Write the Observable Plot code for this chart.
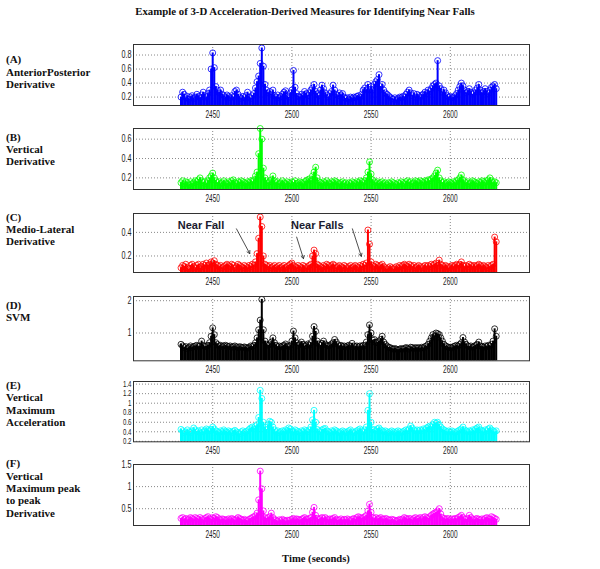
<!DOCTYPE html>
<html>
<head>
<meta charset="utf-8">
<script src="https://cdn.jsdelivr.net/npm/d3@7"></script>
<script src="https://cdn.jsdelivr.net/npm/@observablehq/plot@0.6"></script>
<style>
  html, body { margin: 0; padding: 0; background: #fff; }
  #wrap { position: relative; width: 600px; height: 569px; overflow: hidden; background: #fff; }
  .serif { position: absolute; font-family: "Liberation Serif", "Times New Roman", serif; font-weight: bold; color: #111; white-space: nowrap; }
  .lbl { left: 6px; font-size: 11px; line-height: 12.4px; }
  #title { top: 5px; left: 0; width: 610px; text-align: center; font-size: 10.8px; }
  #xlabel { top: 553px; left: 0; width: 632px; text-align: center; font-size: 10.6px; }
  svg { position: absolute; left: 0; overflow: visible; }
</style>
</head>
<body>
<div id="wrap">
  <div id="title" class="serif">Example of 3-D Acceleration-Derived Measures for Identifying Near Falls</div>
  <div id="xlabel" class="serif">Time (seconds)</div>
</div>
<script>
// ---- data: one sample per second starting at startTime ----
const startTime = 2430;
const timeTicks = [2450, 2500, 2550, 2600];

const apDerivative = [
  0.2, 0.27, 0.24, 0.19, 0.21, 0.17, 0.2, 0.22, 0.18, 0.2,
  0.24, 0.21, 0.19, 0.23, 0.27, 0.22, 0.2, 0.25, 0.3, 0.6,
  0.83, 0.62, 0.35, 0.3, 0.26, 0.3, 0.24, 0.22, 0.2, 0.23,
  0.21, 0.19, 0.22, 0.2, 0.28, 0.3, 0.24, 0.2, 0.18, 0.21,
  0.19, 0.22, 0.27, 0.2, 0.18, 0.22, 0.25, 0.33, 0.42, 0.5,
  0.68, 0.9, 0.64, 0.38, 0.3, 0.26, 0.28, 0.24, 0.3, 0.22,
  0.2, 0.23, 0.19, 0.21, 0.24, 0.27, 0.29, 0.22, 0.2, 0.26,
  0.3, 0.58, 0.34, 0.25, 0.21, 0.2, 0.24, 0.22, 0.28, 0.25,
  0.22, 0.26, 0.3, 0.33, 0.38, 0.28, 0.25, 0.22, 0.3, 0.37,
  0.32, 0.26, 0.23, 0.2, 0.25, 0.28, 0.37, 0.3, 0.24, 0.22,
  0.26, 0.23, 0.25, 0.2, 0.18, 0.19, 0.17, 0.2, 0.18, 0.2,
  0.19, 0.21, 0.22, 0.2, 0.24, 0.3, 0.33, 0.3, 0.38, 0.3,
  0.35, 0.3, 0.38, 0.42, 0.45, 0.52, 0.35, 0.38, 0.3, 0.26,
  0.24, 0.22, 0.2, 0.18, 0.17, 0.19, 0.16, 0.18, 0.2, 0.19,
  0.21, 0.2, 0.24, 0.27, 0.3, 0.26, 0.22, 0.25, 0.2, 0.24,
  0.22, 0.2, 0.23, 0.24, 0.27, 0.25, 0.3, 0.28, 0.32, 0.36,
  0.38, 0.4, 0.72, 0.36, 0.32, 0.27, 0.3, 0.26, 0.22, 0.2,
  0.21, 0.19, 0.2, 0.22, 0.25, 0.3, 0.35, 0.4, 0.36, 0.3,
  0.26, 0.28, 0.32, 0.27, 0.24, 0.26, 0.3, 0.33, 0.38, 0.3,
  0.26, 0.28, 0.32, 0.28, 0.25, 0.3, 0.34, 0.36, 0.38, 0.32
];
const apTicks = [0.2, 0.4, 0.6, 0.8];

const verticalDerivative = [
  0.15, 0.17, 0.14, 0.16, 0.15, 0.13, 0.16, 0.14, 0.15, 0.17,
  0.16, 0.18, 0.2, 0.17, 0.15, 0.16, 0.14, 0.17, 0.2, 0.22,
  0.25, 0.2, 0.17, 0.15, 0.16, 0.14, 0.15, 0.17, 0.15, 0.14,
  0.16, 0.15, 0.17, 0.18, 0.15, 0.14, 0.16, 0.15, 0.17, 0.16,
  0.15, 0.14, 0.16, 0.15, 0.17, 0.16, 0.18, 0.22, 0.26, 0.45,
  0.71, 0.6, 0.3, 0.2, 0.17, 0.15, 0.16, 0.18, 0.22, 0.17,
  0.15, 0.16, 0.14, 0.15, 0.17, 0.15, 0.14, 0.16, 0.15, 0.14,
  0.16, 0.15, 0.17, 0.14, 0.15, 0.16, 0.15, 0.14, 0.16, 0.17,
  0.18, 0.19, 0.17, 0.22, 0.26, 0.31, 0.2, 0.16, 0.15, 0.14,
  0.16, 0.15, 0.17, 0.15, 0.14, 0.16, 0.15, 0.17, 0.16, 0.15,
  0.14, 0.15, 0.16, 0.14, 0.15, 0.13, 0.15, 0.14, 0.16, 0.15,
  0.14, 0.16, 0.15, 0.17, 0.16, 0.15, 0.17, 0.2, 0.26, 0.365,
  0.24, 0.18, 0.16, 0.15, 0.16, 0.14, 0.15, 0.16, 0.14, 0.15,
  0.13, 0.15, 0.14, 0.16, 0.15, 0.14, 0.13, 0.15, 0.14, 0.16,
  0.15, 0.14, 0.16, 0.17, 0.15, 0.16, 0.14, 0.15, 0.17, 0.16,
  0.15, 0.17, 0.16, 0.15, 0.17, 0.16, 0.18, 0.17, 0.19, 0.2,
  0.22, 0.25, 0.28, 0.2, 0.17, 0.15, 0.16, 0.14, 0.15, 0.16,
  0.15, 0.14, 0.16, 0.15, 0.17, 0.18, 0.2, 0.23, 0.18, 0.16,
  0.15, 0.16, 0.14, 0.15, 0.17, 0.16, 0.15, 0.14, 0.16, 0.15,
  0.17, 0.16, 0.15, 0.17, 0.18, 0.2, 0.17, 0.15, 0.16, 0.15
];
const verticalTicks = [0.2, 0.4, 0.6];

const mlDerivative = [
  0.1, 0.12, 0.11, 0.13, 0.1, 0.09, 0.12, 0.13, 0.11, 0.1,
  0.12, 0.13, 0.1, 0.11, 0.13, 0.12, 0.14, 0.12, 0.13, 0.15,
  0.14, 0.16, 0.13, 0.12, 0.11, 0.12, 0.1, 0.11, 0.12, 0.13,
  0.12, 0.11, 0.13, 0.12, 0.1, 0.11, 0.13, 0.12, 0.11, 0.1,
  0.12, 0.11, 0.1, 0.12, 0.11, 0.13, 0.12, 0.15, 0.22, 0.35,
  0.53, 0.45, 0.2, 0.13, 0.12, 0.11, 0.12, 0.1, 0.11, 0.12,
  0.1, 0.11, 0.12, 0.1, 0.11, 0.12, 0.1, 0.11, 0.12, 0.13,
  0.14, 0.12, 0.11, 0.1, 0.12, 0.11, 0.1, 0.12, 0.11, 0.1,
  0.11, 0.12, 0.13, 0.2, 0.25, 0.22, 0.13, 0.12, 0.11, 0.1,
  0.12, 0.11, 0.13, 0.12, 0.11, 0.12, 0.13, 0.12, 0.1, 0.11,
  0.12, 0.11, 0.1, 0.12, 0.11, 0.1, 0.11, 0.12, 0.1, 0.11,
  0.12, 0.11, 0.1, 0.12, 0.11, 0.13, 0.12, 0.14, 0.42, 0.3,
  0.15, 0.12, 0.11, 0.13, 0.12, 0.11, 0.12, 0.13, 0.11, 0.1,
  0.09, 0.1, 0.11, 0.1, 0.09, 0.1, 0.11, 0.1, 0.12, 0.11,
  0.12, 0.13, 0.12, 0.11, 0.13, 0.12, 0.11, 0.12, 0.1, 0.11,
  0.12, 0.11, 0.1, 0.11, 0.12, 0.11, 0.12, 0.11, 0.13, 0.12,
  0.13, 0.14, 0.12, 0.165, 0.13, 0.12, 0.11, 0.12, 0.11, 0.1,
  0.11, 0.12, 0.11, 0.12, 0.13, 0.12, 0.13, 0.15, 0.12, 0.11,
  0.12, 0.11, 0.13, 0.12, 0.11, 0.12, 0.11, 0.12, 0.13, 0.12,
  0.11, 0.12, 0.11, 0.1, 0.12, 0.11, 0.12, 0.13, 0.36, 0.32
];
const mlTicks = [0.2, 0.4];

const svm = [
  0.65, 0.6, 0.55, 0.58, 0.52, 0.56, 0.6, 0.55, 0.58, 0.6,
  0.62, 0.58, 0.6, 0.75, 0.62, 0.58, 0.6, 0.62, 0.7, 0.9,
  1.16, 0.95, 0.7, 0.65, 0.6, 0.62, 0.58, 0.6, 0.62, 0.6,
  0.58, 0.6, 0.56, 0.58, 0.6, 0.57, 0.55, 0.58, 0.56, 0.55,
  0.57, 0.55, 0.53, 0.56, 0.6, 0.58, 0.62, 0.7, 0.85, 1.1,
  1.4, 2.04, 1.1, 0.75, 0.65, 0.62, 0.66, 0.72, 0.85, 0.7,
  0.62, 0.58, 0.6, 0.57, 0.6, 0.62, 0.66, 0.6, 0.58, 0.62,
  0.75, 1.06, 0.85, 0.7, 0.62, 0.66, 0.72, 0.65, 0.6, 0.62,
  0.66, 0.62, 0.7, 0.9, 1.2, 1.05, 0.75, 0.66, 0.62, 0.68,
  0.75, 0.66, 0.62, 0.6, 0.62, 0.66, 0.7, 0.8, 0.72, 0.64,
  0.6, 0.62, 0.58, 0.6, 0.57, 0.6, 0.62, 0.58, 0.68, 0.6,
  0.58, 0.6, 0.57, 0.6, 0.58, 0.62, 0.6, 0.72, 0.95, 1.25,
  1.0, 0.78, 0.8, 0.7, 0.72, 0.75, 0.8, 0.9, 0.72, 0.65,
  0.6, 0.56, 0.55, 0.52, 0.5, 0.52, 0.5, 0.48, 0.5, 0.52,
  0.5, 0.52, 0.55, 0.53, 0.5, 0.56, 0.55, 0.52, 0.55, 0.53,
  0.55, 0.52, 0.56, 0.54, 0.58, 0.6, 0.65, 0.75, 0.85, 0.95,
  0.9, 1.0, 0.98, 0.95, 0.85, 0.75, 0.65, 0.6, 0.58, 0.55,
  0.56, 0.54, 0.58, 0.6, 0.62, 0.6, 0.65, 0.7, 0.86, 0.72,
  0.65, 0.6, 0.58, 0.6, 0.56, 0.58, 0.62, 0.65, 0.72, 0.6,
  0.58, 0.56, 0.6, 0.58, 0.62, 0.6, 0.65, 0.75, 1.13, 0.9
];
const svmTicks = [1, 2];

const verticalMaxAccel = [
  0.45, 0.42, 0.38, 0.4, 0.44, 0.4, 0.38, 0.42, 0.48, 0.44,
  0.4, 0.42, 0.38, 0.44, 0.4, 0.42, 0.46, 0.44, 0.42, 0.45,
  0.5, 0.46, 0.42, 0.4, 0.38, 0.42, 0.4, 0.44, 0.41, 0.39,
  0.42, 0.4, 0.38, 0.41, 0.43, 0.4, 0.38, 0.36, 0.4, 0.42,
  0.38, 0.4, 0.42, 0.45, 0.48, 0.5, 0.46, 0.52, 0.55, 0.7,
  1.27, 1.1, 0.6, 0.5, 0.45, 0.55, 0.62, 0.6, 0.5, 0.44,
  0.4, 0.42, 0.38, 0.4, 0.42, 0.4, 0.44, 0.42, 0.48, 0.46,
  0.42, 0.4, 0.44, 0.42, 0.4, 0.38, 0.42, 0.4, 0.44, 0.42,
  0.4, 0.44, 0.5, 0.65, 0.85, 0.6, 0.45, 0.42, 0.4, 0.44,
  0.46, 0.47, 0.42, 0.4, 0.38, 0.42, 0.4, 0.44, 0.42, 0.4,
  0.38, 0.4, 0.42, 0.4, 0.38, 0.4, 0.42, 0.44, 0.4, 0.38,
  0.4, 0.42, 0.44, 0.46, 0.42, 0.4, 0.44, 0.5, 0.85, 1.2,
  0.6, 0.45, 0.44, 0.42, 0.46, 0.48, 0.44, 0.42, 0.4, 0.42,
  0.4, 0.38, 0.4, 0.42, 0.4, 0.38, 0.4, 0.42, 0.4, 0.38,
  0.4, 0.42, 0.44, 0.42, 0.46, 0.52, 0.48, 0.44, 0.42, 0.44,
  0.42, 0.44, 0.42, 0.46, 0.44, 0.48, 0.5, 0.52, 0.5, 0.55,
  0.6, 0.58, 0.6, 0.55, 0.5, 0.46, 0.44, 0.42, 0.4, 0.42,
  0.4, 0.42, 0.4, 0.38, 0.4, 0.42, 0.44, 0.46, 0.5, 0.44,
  0.42, 0.4, 0.42, 0.4, 0.44, 0.42, 0.46, 0.48, 0.5, 0.44,
  0.42, 0.4, 0.44, 0.42, 0.46, 0.48, 0.44, 0.42, 0.4, 0.42
];
const accelTicks = [0.2, 0.4, 0.6, 0.8, 1, 1.2, 1.4];

const verticalP2P = [
  0.28, 0.3, 0.26, 0.28, 0.25, 0.27, 0.3, 0.28, 0.26, 0.3,
  0.28, 0.26, 0.3, 0.27, 0.25, 0.28, 0.3, 0.32, 0.28, 0.26,
  0.3, 0.28, 0.32, 0.3, 0.27, 0.25, 0.27, 0.26, 0.24, 0.25,
  0.27, 0.25, 0.28, 0.26, 0.24, 0.27, 0.3, 0.28, 0.26, 0.24,
  0.26, 0.24, 0.23, 0.26, 0.28, 0.3, 0.32, 0.34, 0.4, 0.7,
  1.35, 0.95, 0.45, 0.3, 0.28, 0.3, 0.32, 0.4, 0.3, 0.26,
  0.24, 0.22, 0.25, 0.23, 0.26, 0.24, 0.22, 0.24, 0.23, 0.25,
  0.26, 0.28, 0.25, 0.27, 0.26, 0.24, 0.26, 0.28, 0.3, 0.27,
  0.26, 0.28, 0.3, 0.42, 0.53, 0.35, 0.28, 0.26, 0.28, 0.3,
  0.28, 0.3, 0.27, 0.25, 0.27, 0.26, 0.28, 0.3, 0.26, 0.24,
  0.25, 0.27, 0.24, 0.26, 0.25, 0.27, 0.25, 0.23, 0.26, 0.28,
  0.26, 0.3, 0.32, 0.3, 0.28, 0.3, 0.32, 0.35, 0.45, 0.6,
  0.42, 0.3, 0.28, 0.3, 0.27, 0.28, 0.3, 0.27, 0.26, 0.28,
  0.27, 0.25, 0.24, 0.26, 0.25, 0.24, 0.22, 0.24, 0.26, 0.25,
  0.27, 0.3, 0.28, 0.26, 0.28, 0.27, 0.25, 0.28, 0.3, 0.27,
  0.28, 0.3, 0.27, 0.3, 0.32, 0.3, 0.28, 0.32, 0.35, 0.38,
  0.4, 0.42, 0.45, 0.5, 0.38, 0.3, 0.28, 0.26, 0.28, 0.27,
  0.25, 0.27, 0.26, 0.28, 0.27, 0.3, 0.32, 0.35, 0.3, 0.27,
  0.26, 0.28, 0.35, 0.3, 0.27, 0.25, 0.27, 0.28, 0.26, 0.25,
  0.27, 0.25, 0.28, 0.3, 0.28, 0.26, 0.32, 0.3, 0.28, 0.26
];
const p2pTicks = [0.5, 1, 1.5];

// annotations in panel (C)
const noteLabels = [
  { t: 2442.6, v: 0.462, text: "Near Fall" },
  { t: 2516.0, v: 0.462, text: "Near Falls" }
];
const noteArrows = [
  { t1: 2465.0, v1: 0.43, t2: 2473.4, v2: 0.22 },
  { t1: 2503.0, v1: 0.36, t2: 2507.3, v2: 0.178 },
  { t1: 2538.2, v1: 0.43, t2: 2543.8, v2: 0.197 }
];

// ---- layout / styling ----
const panels = [
  { lines: ["(A)", "AnteriorPosterior", "Derivative"], values: apDerivative, ticks: apTicks,
    color: "#0000ff", domain: [0.08, 0.95], top: 44, bottom: 105, labelY: 59.3, tickFont: 10 },
  { lines: ["(B)", "Vertical", "Derivative"], values: verticalDerivative, ticks: verticalTicks,
    color: "#00ff00", domain: [0.08, 0.71], top: 128.3, bottom: 189.3, labelY: 136.7, tickFont: 10 },
  { lines: ["(C)", "Medio-Lateral", "Derivative"], values: mlDerivative, ticks: mlTicks,
    color: "#ff0000", domain: [0.06, 0.56], top: 213.3, bottom: 272.3, labelY: 216.7, tickFont: 10, notes: true },
  { lines: ["(D)", "SVM"], values: svm, ticks: svmTicks,
    color: "#000000", domain: [0.14, 2.13], top: 295.7, bottom: 360, labelY: 305, tickFont: 10 },
  { lines: ["(E)", "Vertical", "Maximum", "Acceleration"], values: verticalMaxAccel, ticks: accelTicks,
    color: "#00ffff", domain: [0.19, 1.455], top: 380.7, bottom: 441, labelY: 385, tickFont: 8.5 },
  { lines: ["(F)", "Vertical", "Maximum peak", "to peak", "Derivative"], values: verticalP2P, ticks: p2pTicks,
    color: "#ff00ff", domain: [0.12, 1.5], top: 464, bottom: 525, labelY: 463.3, tickFont: 10 }
];

const wrap = document.getElementById("wrap");
const mt = 4, mb = 22;

function squeeze(svg, sel, sx) {
  svg.querySelectorAll(sel).forEach(t => {
    const tr = t.getAttribute("transform");
    if (tr) t.setAttribute("transform", tr + ` scale(${sx},1)`);
    else {
      const x = +t.getAttribute("x") || 0, y = +t.getAttribute("y") || 0;
      t.removeAttribute("x"); t.removeAttribute("y");
      t.setAttribute("transform", `translate(${x},${y}) scale(${sx},1)`);
    }
  });
}

panels.forEach(p => {
  const data = p.values.map((v, i) => ({ t: startTime + i, v }));
  const grid = { stroke: "#555", strokeOpacity: 1, strokeWidth: 0.7, strokeDasharray: "1,2" };
  const marks = [
    Plot.gridX(timeTicks, grid),
    Plot.gridY(p.ticks, grid),
    Plot.ruleX(data, { x: "t", y1: p.domain[0], y2: "v", stroke: p.color, strokeWidth: 2 }),
    Plot.dot(data, { x: "t", y: "v", r: 3, stroke: p.color, fill: "none", strokeWidth: 0.8 }),
    Plot.axisX(timeTicks, { tickSize: 0, tickPadding: 5, fontSize: 10, label: null, tickFormat: d => String(d) }),
    Plot.axisY(p.ticks, { tickSize: 0, tickPadding: 2, fontSize: p.tickFont, label: null, tickFormat: d => String(d) }),
    Plot.frame({ stroke: "#333", strokeWidth: 1 })
  ];
  if (p.notes) {
    marks.push(
      Plot.text(noteLabels, { x: "t", y: "v", text: "text", fontSize: 11, fontWeight: "bold",
        fontFamily: "Liberation Sans, Arial, sans-serif", fill: "#1a1a2e" }),
      Plot.arrow(noteArrows, { x1: "t1", y1: "v1", x2: "t2", y2: "v2", stroke: "#222",
        strokeWidth: 0.8, headLength: 6 })
    );
  }
  const h = (p.bottom - p.top) + mt + mb;
  const svg = Plot.plot({
    width: 600, height: h,
    marginLeft: 133, marginRight: 71, marginTop: mt, marginBottom: mb,
    x: { domain: [2400, 2650], label: null },
    y: { domain: p.domain, label: null },
    style: { background: "transparent", fontFamily: "Liberation Sans, Arial, sans-serif", color: "#222" },
    marks
  });
  svg.style.top = (p.top - mt) + "px";
  squeeze(svg, 'g[aria-label="x-axis tick label"] text', 0.65);
  squeeze(svg, 'g[aria-label="y-axis tick label"] text', 0.72);
  wrap.appendChild(svg);

  const lbl = document.createElement("div");
  lbl.className = "serif lbl";
  lbl.style.top = (p.labelY - 6.2) + "px";
  lbl.innerHTML = p.lines.join("<br>");
  wrap.appendChild(lbl);
});
</script>
</body>
</html>
